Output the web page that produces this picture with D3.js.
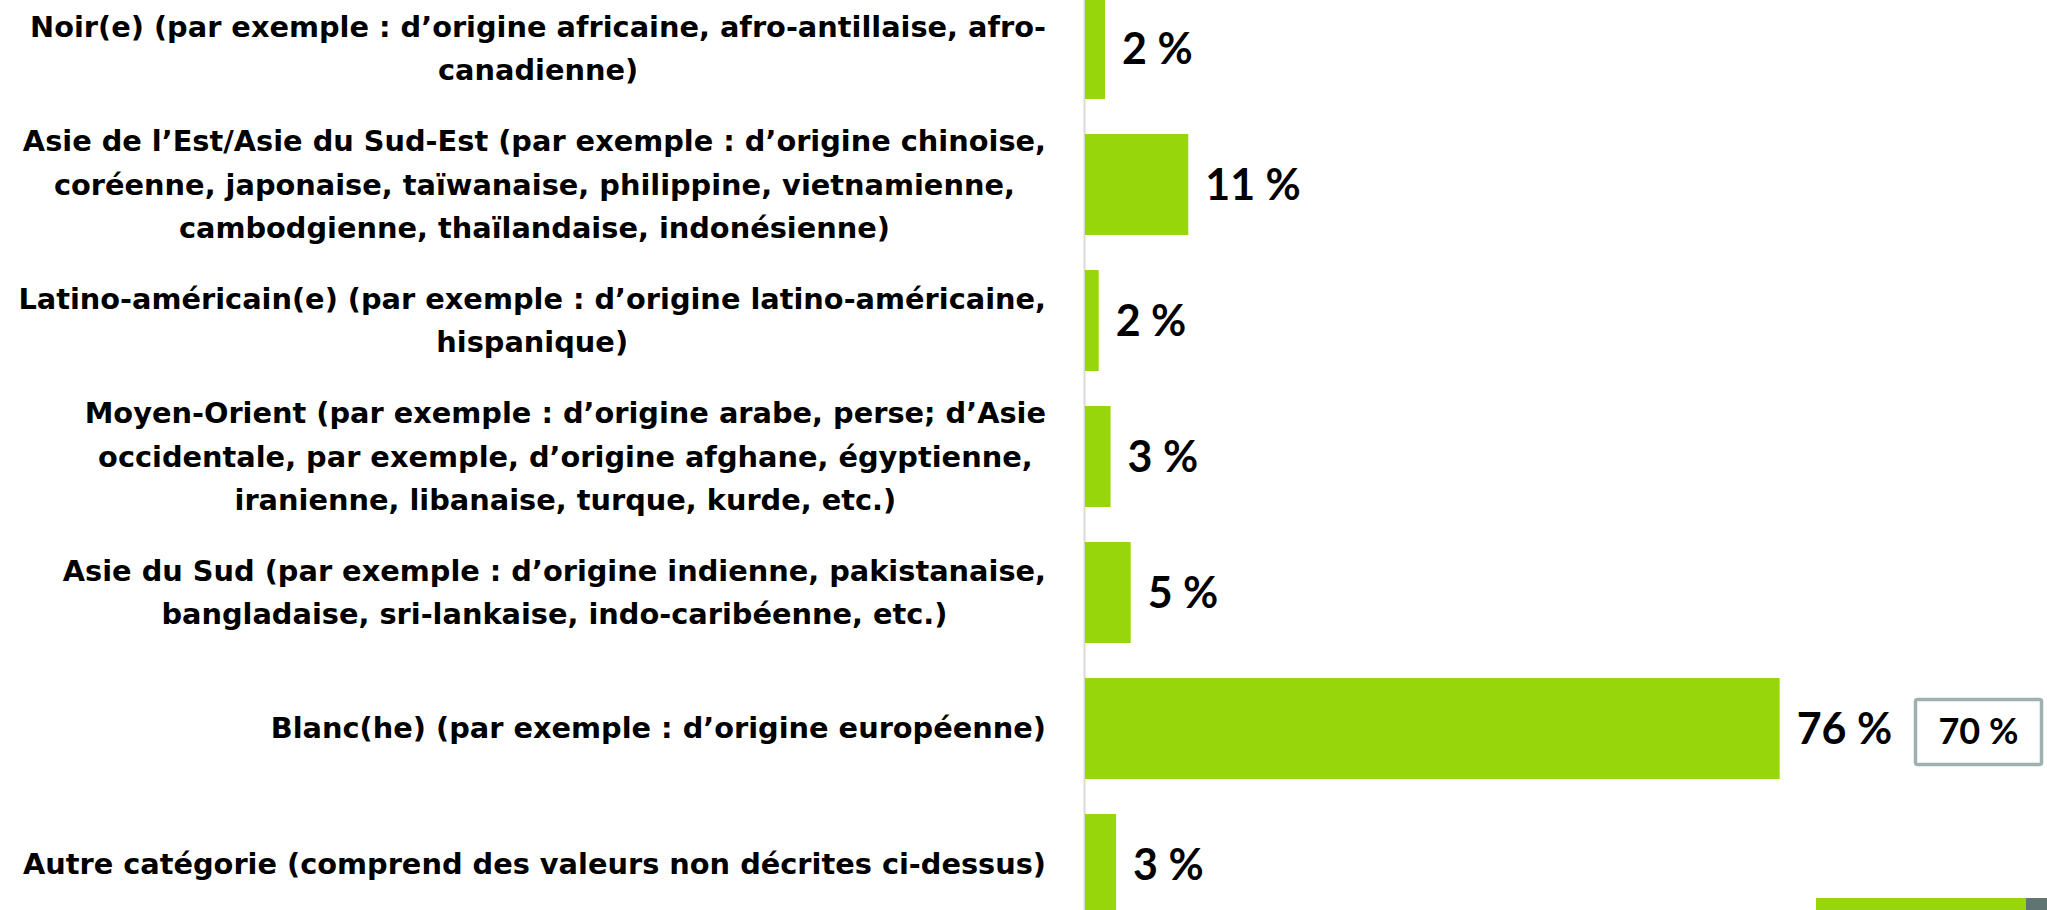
<!DOCTYPE html>
<html>
<head>
<meta charset="utf-8">
<script src="https://cdn.jsdelivr.net/npm/d3@7"></script>
<style>
	body { margin: 0; background: #fff; overflow: hidden; }
	svg { display: block; }
</style>
</head>
<body>
<div id="chart"></div>
<script>
// categories (bar order, top to bottom)
const categories = [
	"Noir(e)",
	"Asie de l’Est/Asie du Sud-Est",
	"Latino-américain(e)",
	"Moyen-Orient",
	"Asie du Sud",
	"Blanc(he)",
	"Autre catégorie"
];

// tick labels, broken into lines as on the slide
const label_lines = [
	["Noir(e) (par exemple : d’origine africaine, afro-antillaise, afro-", "canadienne)"],
	["Asie de l’Est/Asie du Sud-Est (par exemple : d’origine chinoise,", "coréenne, japonaise, taïwanaise, philippine, vietnamienne,", "cambodgienne, thaïlandaise, indonésienne)"],
	["Latino-américain(e) (par exemple : d’origine latino-américaine,", "hispanique)"],
	["Moyen-Orient (par exemple : d’origine arabe, perse; d’Asie", "occidentale, par exemple, d’origine afghane, égyptienne,", "iranienne, libanaise, turque, kurde, etc.)"],
	["Asie du Sud (par exemple : d’origine indienne, pakistanaise,", "bangladaise, sri-lankaise, indo-caribéenne, etc.)"],
	["Blanc(he) (par exemple : d’origine européenne)"],
	["Autre catégorie (comprend des valeurs non décrites ci-dessus)"]
];

// percentages (bar lengths, labels are rounded)
const values = [2.2, 11.3, 1.5, 2.8, 5.0, 76.0, 3.4];

// comparison value shown in the box
const benchmark_categories = ["Blanc(he)"];
const benchmark_values = [70];

const width = 2047;
const height = 910;
const bar_color = "#96d60a";
const label_font = "'DejaVu Sans', sans-serif";
const value_font = "Lato, 'Open Sans', sans-serif";

let svg = d3.select("#chart").append("svg")
	.attr("width", width)
	.attr("height", height);

let x = d3.scaleLinear().domain([0, 100]).range([1085, 1999]);
let y = d3.scaleBand().domain(categories).range([-2, 915])
	.paddingInner(0.257).paddingOuter(0);

// axis: just the grey line and the multi-line category labels
let axis_g = svg.append("g")
	.attr("class", "axis")
	.attr("transform", "translate(1084,0)")
	.call(d3.axisLeft(y).tickSize(0).tickSizeOuter(0).tickPadding(38));

axis_g.attr("font-family", label_font)
	.attr("font-size", 28.8)
	.attr("font-weight", 700);

axis_g.select(".domain")
	.attr("stroke", "#d9d9d9")
	.attr("stroke-width", 2);

axis_g.selectAll(".tick text").each(function(d, i) {
	let lines = label_lines[i];
	let t = d3.select(this).text(null).attr("dy", null).attr("fill", "#000");
	let spans = lines.map(function(line, k) {
		return t.append("tspan")
			.attr("y", (k - (lines.length - 1) / 2) * 43.5 + 10)
			.text(line);
	});
	// lines are centred on each other, block is right aligned
	let w = d3.max(spans, function(s) { return s.node().getComputedTextLength(); });
	t.attr("text-anchor", "middle");
	spans.forEach(function(s) { s.attr("x", -38 - w / 2); });
});

// bars
svg.selectAll(".bar")
	.data(values)
	.enter().append("rect")
	.attr("class", "bar")
	.attr("x", x(0))
	.attr("y", function(d, i) { return y(categories[i]); })
	.attr("width", function(d) { return x(d) - x(0); })
	.attr("height", y.bandwidth())
	.attr("fill", bar_color);

// value labels
svg.selectAll(".value")
	.data(values)
	.enter().append("text")
	.attr("class", "value")
	.attr("x", function(d) { return x(d) + 17; })
	.attr("y", function(d, i) { return y(categories[i]) + y.bandwidth() / 2 + 15.5; })
	.attr("font-family", value_font)
	.attr("font-size", 43)
	.attr("font-weight", 700)
	.attr("fill", "#000")
	.text(function(d) { return Math.round(d) + " %"; });

// benchmark box
let bench = svg.selectAll(".bench")
	.data(benchmark_values)
	.enter().append("g")
	.attr("class", "bench")
	.attr("transform", function(d, i) {
		return "translate(1915.5," + (y(benchmark_categories[i]) + y.bandwidth() / 2 - 29) + ")";
	});

bench.append("rect")
	.attr("width", 126)
	.attr("height", 65)
	.attr("rx", 2)
	.attr("fill", "#fff")
	.attr("stroke", "#a0b0b0")
	.attr("stroke-width", 3.5);

bench.append("text")
	.attr("x", 63)
	.attr("y", 45)
	.attr("text-anchor", "middle")
	.attr("font-family", value_font)
	.attr("font-size", 36)
	.attr("font-weight", 700)
	.attr("fill", "#000")
	.text(function(d) { return d + " %"; });

// slide footer strip
svg.append("rect")
	.attr("x", 1816).attr("y", 898)
	.attr("width", 210).attr("height", 12)
	.attr("fill", bar_color);
svg.append("rect")
	.attr("x", 2026).attr("y", 898)
	.attr("width", 21).attr("height", 12)
	.attr("fill", "#5f7571");
</script>
</body>
</html>
